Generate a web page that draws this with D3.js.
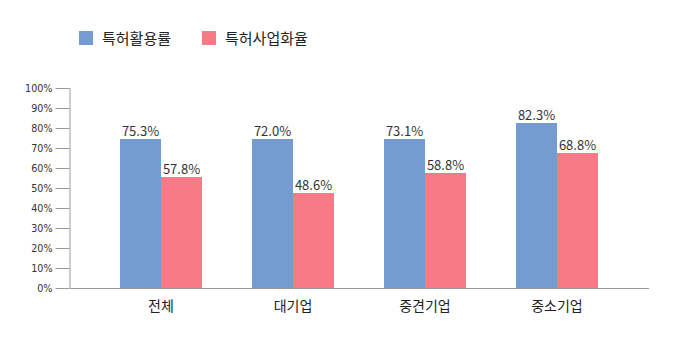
<!DOCTYPE html>
<html>
<head>
<meta charset="utf-8">
<script src="https://cdn.jsdelivr.net/npm/d3@7"></script>
<style>
  body { margin: 0; background: #fff; }
  text { font-family: "Noto Sans CJK KR", "Noto Sans", sans-serif; }
</style>
</head>
<body>
<svg id="chart" width="677" height="340"></svg>
<script>
// data
var categories = ["전체", "대기업", "중견기업", "중소기업"];
var seriesNames = ["특허활용률", "특허사업화율"];
var usageRate = [75.3, 72.0, 73.1, 82.3];      // labels
var commRate = [57.8, 48.6, 58.8, 68.8];
// bar heights as drawn in the picture (they don't exactly follow the labels)
var usageBar = [74.5, 74.5, 74.5, 82.5];
var commBar = [55.5, 47.5, 57.5, 67.5];
var yTicks = [0, 10, 20, 30, 40, 50, 60, 70, 80, 90, 100];
var colors = ["#749cd0", "#f87a86"];

var svg = d3.select("#chart");

var y = d3.scaleLinear().domain([0, 100]).range([288, 88]);
var x0 = d3.scaleBand().domain(categories).range([95, 623]);
var x1 = d3.scaleBand().domain(seriesNames).range([0, x0.bandwidth()]).paddingOuter(0.61);

// y axis
var yAxis = d3.axisLeft(y).tickValues(yTicks).tickSize(14).tickPadding(3)
  .tickFormat(function(d){ return d + "%"; });
var gy = svg.append("g").attr("transform", "translate(69.5,0)").call(yAxis);
gy.select(".domain").attr("stroke", "#999").attr("d", "M0.5,88V288");
gy.selectAll(".tick line").attr("stroke", "#999");
gy.selectAll(".tick text").attr("fill", "#333")
  .style("font-family", "'DejaVu Sans', sans-serif").style("font-size", "9.6px");

// baseline
svg.append("line")
  .attr("x1", 70).attr("x2", 649)
  .attr("y1", y(0) + 0.5).attr("y2", y(0) + 0.5)
  .attr("stroke", "#999");

// bars
var rows = categories.map(function(c, i){
  return [
    {cat: c, s: seriesNames[0], v: usageBar[i], label: usageRate[i], c: colors[0]},
    {cat: c, s: seriesNames[1], v: commBar[i], label: commRate[i], c: colors[1]}
  ];
});

var groups = svg.selectAll("g.grp").data(rows).enter().append("g")
  .attr("class", "grp")
  .attr("transform", function(d){ return "translate(" + x0(d[0].cat) + ",0)"; });

groups.selectAll("rect").data(function(d){ return d; }).enter().append("rect")
  .attr("x", function(d){ return x1(d.s); })
  .attr("y", function(d){ return y(d.v); })
  .attr("width", x1.bandwidth())
  .attr("height", function(d){ return y(0) - y(d.v); })
  .attr("fill", function(d){ return d.c; });

groups.selectAll("text.val").data(function(d){ return d; }).enter().append("text")
  .attr("class", "val")
  .attr("x", function(d){ return x1(d.s) + x1.bandwidth() / 2; })
  .attr("y", function(d){ return y(d.v) - 3; })
  .attr("text-anchor", "middle")
  .attr("fill", "#333")
  .style("font-size", "13px")
  .text(function(d){ return d.label.toFixed(1) + "%"; });

// category labels
svg.selectAll("text.cat").data(categories).enter().append("text")
  .attr("class", "cat")
  .attr("x", function(d){ return x0(d) + x0.bandwidth() / 2; })
  .attr("y", 311)
  .attr("text-anchor", "middle")
  .attr("fill", "#222")
  .style("font-size", "14px")
  .text(function(d){ return d; });

// legend
var legendX = [79, 202];
var lg = svg.selectAll("g.leg").data(seriesNames).enter().append("g")
  .attr("class", "leg")
  .attr("transform", function(d, i){ return "translate(" + legendX[i] + ",31)"; });
lg.append("rect").attr("width", 14).attr("height", 14)
  .attr("fill", function(d, i){ return colors[i]; });
lg.append("text").attr("x", 23).attr("y", 12.5)
  .attr("fill", "#222").style("font-size", "15px")
  .text(function(d){ return d; });
</script>
</body>
</html>
